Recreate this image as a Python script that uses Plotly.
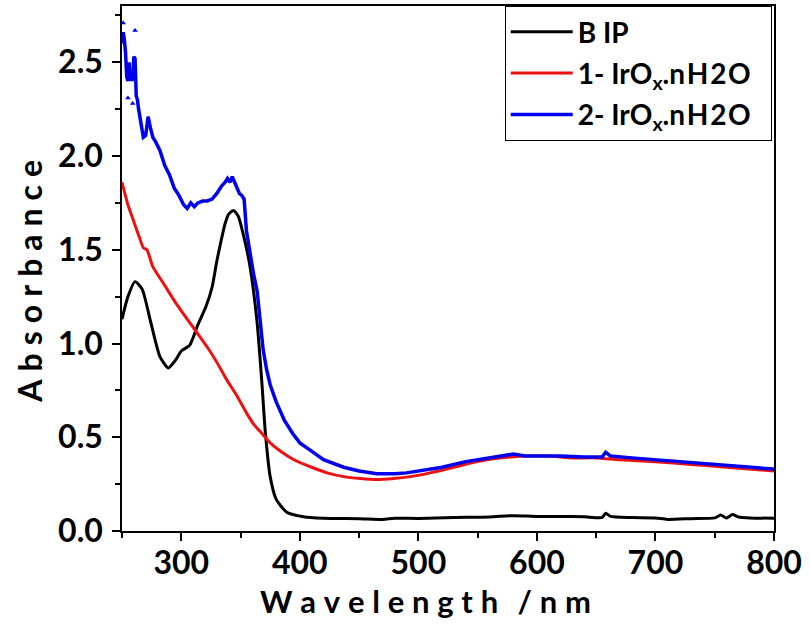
import plotly.graph_objects as go

# ---- data ----
bip_x = [250, 255, 261, 267, 274, 282, 289, 295, 300, 307, 314, 321, 326, 330, 334, 337, 340, 344, 348,
         352, 358, 364, 368, 371, 375, 380, 389, 403, 420, 450, 470, 480, 500, 530, 560, 580, 600, 620,
         640, 655, 658, 662, 680, 700, 710, 730, 750, 755, 760, 765, 770, 780, 800]
bip_y = [1.13, 1.25, 1.33, 1.29, 1.12, 0.93, 0.87, 0.91, 0.96, 0.99, 1.10, 1.20, 1.30, 1.44, 1.56, 1.64,
         1.69, 1.71, 1.68, 1.59, 1.41, 1.11, 0.79, 0.52, 0.29, 0.17, 0.10, 0.076, 0.068, 0.066, 0.062,
         0.068, 0.067, 0.072, 0.075, 0.082, 0.078, 0.078, 0.076, 0.072, 0.095, 0.078, 0.072, 0.070,
         0.062, 0.066, 0.070, 0.085, 0.070, 0.088, 0.075, 0.070, 0.068]

irox1_x = [250, 255, 260, 265, 268, 271, 276, 285, 296, 305, 313, 322, 330, 338, 347, 355, 361, 368,
           375, 385, 395, 410, 423, 437, 451, 465, 479, 493, 510, 530, 550, 570, 590, 610, 630, 650,
           670, 700, 730, 760, 800]
irox1_y = [1.86, 1.74, 1.65, 1.56, 1.51, 1.50, 1.41, 1.32, 1.21, 1.13, 1.06, 0.98, 0.90, 0.81, 0.72,
           0.63, 0.57, 0.52, 0.47, 0.42, 0.38, 0.34, 0.31, 0.29, 0.28, 0.275, 0.28, 0.29, 0.31, 0.34,
           0.37, 0.39, 0.40, 0.40, 0.39, 0.39, 0.38, 0.37, 0.355, 0.34, 0.32]

irox2_x = [250, 251, 252, 253, 254, 255, 256, 257, 258, 259, 260, 261, 262, 263, 264, 266, 268, 270,
           272, 274, 276, 278, 282, 286, 290, 294, 298, 302, 305, 308, 311, 314, 318, 322, 326, 330,
           334, 337, 339, 341, 343, 345, 347, 349, 351, 353, 355, 358, 361, 364, 367, 369, 372, 375,
           380, 387, 394, 400, 409, 420, 437, 450, 465, 480, 490, 500, 520, 540, 560, 580, 590, 600,
           620, 640, 655, 658, 662, 680, 700, 720, 740, 760, 780, 800]
irox2_y = [2.60, 2.66, 2.62, 2.55, 2.42, 2.40, 2.50, 2.40, 2.44, 2.40, 2.53, 2.52, 2.32, 2.30, 2.25,
           2.18, 2.10, 2.11, 2.21, 2.15, 2.10, 2.08, 2.03, 1.95, 1.90, 1.83, 1.79, 1.74, 1.72, 1.75,
           1.73, 1.75, 1.76, 1.76, 1.77, 1.80, 1.84, 1.86, 1.88, 1.86, 1.89, 1.86, 1.83, 1.80, 1.79,
           1.77, 1.60, 1.47, 1.37, 1.28, 1.08, 0.97, 0.86, 0.78, 0.69, 0.59, 0.52, 0.47, 0.43, 0.38,
           0.34, 0.32, 0.305, 0.305, 0.31, 0.32, 0.34, 0.37, 0.39, 0.41, 0.40, 0.40, 0.40, 0.395,
           0.395, 0.42, 0.40, 0.39, 0.38, 0.37, 0.36, 0.35, 0.34, 0.33]

# stray triangle points of series 2
irox2_out_x = [251, 261, 255, 259]
irox2_out_y = [2.71, 2.67, 2.31, 2.28]

names = ["B IP\u2003\u2003\u2003\u2003",
         "1- IrO<sub>x</sub>.n\u200aH\u200a2\u200aO\u2002",
         "2- IrO<sub>x</sub>.n\u200aH\u200a2\u200aO\u2002"]
colors = ["#000000", "#ee1111", "#0000ee"]

x_ticks = [300, 400, 500, 600, 700, 800]
y_ticks = [0.0, 0.5, 1.0, 1.5, 2.0, 2.5]

x_title = "Wavelength /nm"
y_title = "Absorbance"

FONT = "Lato"


def spaced(s):
    out = []
    for ch in s:
        out.append("\u2009" if ch == " " else ch)
    return "\u2009\u200a\u200a".join(out)


fig = go.Figure()
fig.add_trace(go.Scatter(x=bip_x, y=bip_y, mode="lines", name=names[0], legendgroup="a",
                         line=dict(color=colors[0], width=3, shape="spline", smoothing=0.6)))
fig.add_trace(go.Scatter(x=irox1_x, y=irox1_y, mode="lines", name=names[1], legendgroup="b",
                         line=dict(color=colors[1], width=3, shape="spline", smoothing=0.6)))
fig.add_trace(go.Scatter(x=irox2_x, y=irox2_y, mode="lines", name=names[2], legendgroup="c",
                         line=dict(color=colors[2], width=3.5)))
fig.add_trace(go.Scatter(x=irox2_out_x, y=irox2_out_y, mode="markers", showlegend=False,
                         marker=dict(symbol="triangle-up", size=5, color=colors[2])))

axis_common = dict(
    showline=True, linecolor="black", linewidth=1.5, mirror=True,
    ticks="outside", ticklen=8, tickwidth=1.5, tickcolor="black",
    showgrid=False, zeroline=False, automargin=False,
    tickfont=dict(family=FONT, size=32, color="black", weight="bold"),
)

fig.update_layout(
    width=810, height=630,
    paper_bgcolor="white", plot_bgcolor="white",
    margin=dict(l=122, r=36, t=6, b=99),
    font=dict(family=FONT, color="black"),
    xaxis=dict(range=[250, 800], tickvals=x_ticks, ticklabelstandoff=-5,
               minor=dict(ticks="outside", ticklen=5, tickwidth=1.5, dtick=50, tick0=250, tickcolor="black"),
               **axis_common),
    yaxis=dict(range=[0, 2.8], tickvals=y_ticks, tickformat=".1f", ticklabelstandoff=3,
               minor=dict(ticks="outside", ticklen=5, tickwidth=1.5, dtick=0.25, tick0=0, tickcolor="black"),
               **axis_common),
    legend=dict(x=0.587, y=1.0, xanchor="left", yanchor="top",
                bgcolor="white", bordercolor="black", borderwidth=1,
                font=dict(family=FONT, size=28, color="black", weight="bold"),
                tracegroupgap=2, itemwidth=62),
    showlegend=True,
    annotations=[
        dict(text=spaced(x_title), xref="paper", yref="paper", x=0.465, y=0,
             xanchor="center", yanchor="middle", yshift=-70, showarrow=False,
             font=dict(family=FONT, size=31, color="black", weight="bold")),
        dict(text=spaced(y_title), xref="paper", yref="paper", x=0, y=0.475,
             xanchor="center", yanchor="middle", xshift=-92, textangle=-90, showarrow=False,
             font=dict(family=FONT, size=32, color="black", weight="bold")),
    ],
)

fig.write_html("out.html", config={"displayModeBar": False},
               post_script="document.body.style.margin='0px';")
